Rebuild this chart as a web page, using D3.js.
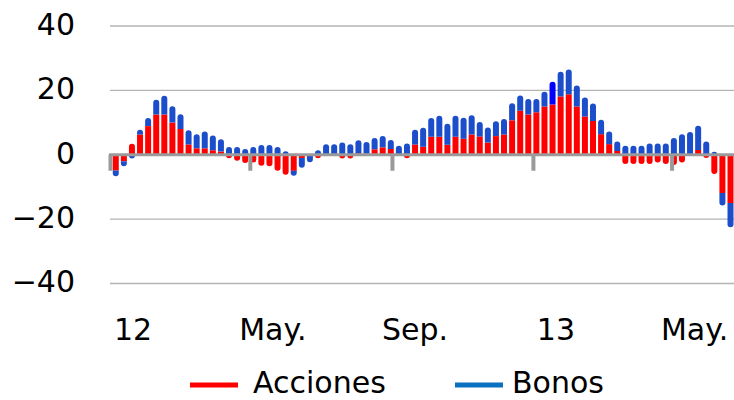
<!DOCTYPE html>
<html lang="es">
<head>
<meta charset="UTF-8">
<title>Acciones y Bonos</title>
<script src="https://cdnjs.cloudflare.com/ajax/libs/d3/7.8.5/d3.min.js"></script>
<style>
*{margin:0;padding:0}
body{background:#fff;width:734px;height:400px;overflow:hidden}
svg{display:block;font-family:"DejaVu Sans",Verdana,sans-serif}
</style>
</head>
<body>
<div id="chart"></div>
<script>
// weekly flows (Fridays), Jan 2012 - Jun 2013
const weeks = d3.timeFriday.range(new Date(2012, 0, 6), new Date(2013, 5, 22));
const acciones = [-4.9,-2.0,3.4,6.3,8.9,12.5,12.5,10.0,8.0,3.2,
  2.0,2.0,1.4,1.0,-1.1,-1.9,-2.6,-2.4,-3.4,-3.6,
  -5.0,-6.2,-5.0,-1.0,-0.3,-1.1,0.2,0.1,-1.2,-1.2,
  0.5,0.3,1.7,2.3,1.8,0,-1.1,3.2,2.5,5.6,
  5.6,3.1,5.6,5.0,6.3,5.7,3.8,5.8,6.3,10.7,
  13.7,12.5,13.2,15.0,15.6,18.1,18.8,15.0,11.9,10.5,
  6.4,3.3,1.2,-2.9,-2.9,-2.9,-2.9,-2.4,-2.9,-3.2,
  -2.4,0,1.5,-1.0,-6.0,-11.9,-15.0];
const bonos = [-1.8,-1.6,-1.2,1.5,2.5,4.6,5.8,5.1,4.6,4.4,
  4.4,5.2,4.6,3.8,2.4,2.4,1.8,2.4,3.0,3.0,
  2.4,1.1,-1.5,-3.0,-2.0,1.4,3.1,3.2,3.8,3.3,
  4.0,3.7,3.5,3.5,2.8,2.8,3.5,4.6,5.9,5.8,
  6.5,6.5,6.5,6.5,6.0,4.5,4.7,4.6,4.8,5.3,
  4.7,4.8,4.1,4.6,7.1,7.7,7.7,6.5,5.9,5.4,
  4.5,3.9,2.9,2.8,2.8,2.8,3.5,3.5,3.5,5.2,
  6.4,7.1,7.5,4.1,0.9,-3.9,-7.5];
const yTicks = [40, 20, 0, -20, -40];
const xTickDates = [new Date(2012,0,1), new Date(2012,4,1), new Date(2012,8,1), new Date(2013,0,1), new Date(2013,4,1)];
const xTickLabels = ["12", "May.", "Sep.", "13", "May."];
const seriesNames = ["Acciones", "Bonos"];

const W = 734, H = 400, bw = 6;
const col = {acciones: "#ff0000", bonos: "#1c4ecb"};
const legendCol = ["#ff0000", "#0a70c0"];
const hiIdx = 54; // this week's bonos drawn in pure blue in the original

const x = d3.scaleTime().domain([new Date(2012,0,1), new Date(2013,5,21)]).range([110, 730.5]);
const y = d3.scaleLinear().domain([-40, 40]).range([283.5, 26]);

const rows = weeks.map((d, i) => ({date: d, acciones: acciones[i], bonos: bonos[i]}));
const stacked = d3.stack().keys(["acciones", "bonos"]).offset(d3.stackOffsetDiverging)(rows);

const svg = d3.select("#chart").append("svg").attr("width", W).attr("height", H);

// grid
svg.append("g").selectAll("line").data(yTicks.filter(v => v !== 0)).join("line")
  .attr("x1", 110).attr("x2", W).attr("y1", d => y(d)).attr("y2", d => y(d))
  .attr("stroke", "#b4b4b4").attr("stroke-width", 1.4);

// bar segment with rounded outer end
function seg(cx, yi, yo, round) {
  const x0 = cx - bw / 2, x1 = cx + bw / 2;
  const h = Math.abs(yo - yi);
  const r = round ? Math.min(bw / 2, h) : 0;
  if (yo < yi) {
    return `M${x0},${yi}V${yo + r}A${r},${r} 0 0 1 ${x0 + r},${yo}H${x1 - r}A${r},${r} 0 0 1 ${x1},${yo + r}V${yi}Z`;
  }
  return `M${x0},${yi}V${yo - r}A${r},${r} 0 0 0 ${x0 + r},${yo}H${x1 - r}A${r},${r} 0 0 0 ${x1},${yo - r}V${yi}Z`;
}

const bars = svg.append("g");
stacked.forEach(s => {
  s.forEach((d, i) => {
    const v = d.data[s.key];
    if (!v) return;
    const inner = Math.abs(d[0]) < Math.abs(d[1]) ? d[0] : d[1];
    const outer = inner === d[0] ? d[1] : d[0];
    let round = true;
    if (s.key === "acciones") {
      const b = d.data.bonos;
      round = !(b !== 0 && Math.sign(b) === Math.sign(v));
    }
    let fill = col[s.key];
    if (s.key === "bonos" && i === hiIdx) fill = "#0000ff";
    bars.append("path").attr("d", seg(x(d.data.date), y(inner), y(outer), round)).attr("fill", fill);
  });
});

// x axis: ticks + zero line
const xAxis = svg.append("g").attr("transform", `translate(0,${y(0)})`)
  .call(d3.axisBottom(x).tickValues(xTickDates).tickSize(16).tickFormat(""));
xAxis.select(".domain").remove();
xAxis.selectAll(".tick line").attr("stroke", "#9a9a9a").attr("stroke-width", 4);
svg.append("line").attr("x1", 109).attr("x2", W).attr("y1", y(0)).attr("y2", y(0))
  .attr("stroke", "#9a9a9a").attr("stroke-width", 3.2);

svg.append("g").selectAll("text").data(xTickDates).join("text")
  .attr("x", d => x(d) + 23).attr("y", 340).attr("text-anchor", "middle")
  .attr("font-size", 30).attr("fill", "#000").text((d, i) => xTickLabels[i]);

// y labels
svg.append("g").selectAll("text").data(yTicks).join("text")
  .attr("x", 75).attr("y", d => y(d) - 2).attr("dy", "0.36em").attr("text-anchor", "end")
  .attr("font-size", 30).attr("fill", "#000").text(d => d < 0 ? "\u2212" + Math.abs(d) : d);

// legend
const lg = svg.append("g");
const lx = [190, 455];
seriesNames.forEach((n, i) => {
  lg.append("line").attr("x1", lx[i]).attr("x2", lx[i] + 48).attr("y1", 385).attr("y2", 385)
    .attr("stroke", legendCol[i]).attr("stroke-width", 5);
  lg.append("text").attr("x", lx[i] + (i ? 57 : 63)).attr("y", 393).attr("font-size", 30)
    .attr("fill", "#000").text(n);
});
</script>
</body>
</html>
